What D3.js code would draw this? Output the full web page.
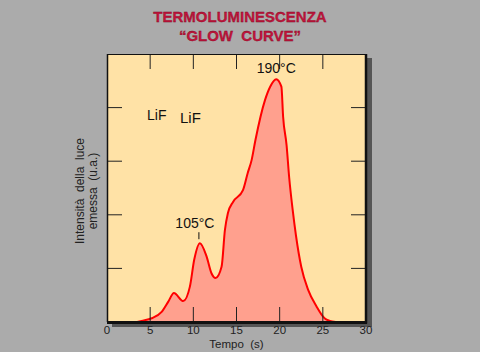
<!DOCTYPE html>
<html>
<head>
<meta charset="utf-8">
<script src="https://cdn.jsdelivr.net/npm/d3@7"></script>
<style>
html,body{margin:0;padding:0;background:#ababab;}
svg{display:block;font-family:"Liberation Sans",Arial,Helvetica,sans-serif;}
</style>
</head>
<body>
<svg id="chart" width="480" height="352"></svg>
<script>
const titleLines = ["TERMOLUMINESCENZA", "\u201CGLOW  CURVE\u201D"];
const xTicks = [0, 5, 10, 15, 20, 25, 30];
const yTicks = [1, 2, 3, 4];
const time = [3.5, 4.0, 5.17, 6.33, 7.1, 7.75, 8.83, 9.6, 10.1, 10.76, 11.54, 12.1, 12.58, 13.27, 13.66, 14.0, 14.6, 15.75, 16.3, 16.75, 17.2, 18.3, 18.9, 19.6, 20.2, 20.4, 20.8, 21.1, 21.5, 21.9, 22.5, 23.3, 24.27, 25.2, 25.8, 26.5];
const intensity = [0, 0.02, 0.07, 0.19, 0.38, 0.54, 0.39, 0.66, 1.16, 1.47, 1.22, 0.91, 0.82, 1.03, 1.72, 2.03, 2.24, 2.46, 2.78, 3.02, 3.40, 4.14, 4.39, 4.53, 4.39, 3.83, 3.30, 2.70, 2.10, 1.60, 1.03, 0.60, 0.29, 0.07, 0.02, 0];
const peakLabels = ["105\u00B0C", "190\u00B0C"];
const peakTimes = [10.76, 19.6];
const peakValues = [1.47, 4.53];
const materialLabels = ["LiF", "LiF"];
const xLabel = "Tempo  (s)";
const yLabelLines = ["Intensit\u00E0  della  luce", "emessa  (u.a.)"];

const svg = d3.select("#chart");
const L = 107, R = 366, T = 54, B = 322;
const x = d3.scaleLinear().domain([0, 30]).range([L, R]);
const y = d3.scaleLinear().domain([0, 5]).range([B, T]);

// shadow
svg.append("rect").attr("x", R).attr("y", T + 4).attr("width", 6).attr("height", B - T).attr("fill", "#555");
svg.append("rect").attr("x", L + 5).attr("y", B).attr("width", R - L + 1).attr("height", 5).attr("fill", "#555");

// plot background
svg.append("rect").attr("x", L).attr("y", T).attr("width", R - L).attr("height", B - T).attr("fill", "#ffe2a6");

// title
svg.selectAll("text.title").data(titleLines).join("text")
  .attr("class", "title")
  .attr("x", 240).attr("y", (d, i) => 22 + i * 19)
  .attr("text-anchor", "middle")
  .attr("font-size", 15).attr("font-weight", "bold")
  .attr("fill", "#c4143c").attr("stroke", "#7a0a22").attr("stroke-width", 0.3)
  .style("white-space", "pre")
  .text(d => d);

// area
const pts = time.map((t, i) => [t, intensity[i]]);
const area = d3.area().x(d => x(d[0])).y0(y(0)).y1(d => y(d[1])).curve(d3.curveMonotoneX);
const line = d3.line().x(d => x(d[0])).y(d => y(d[1])).curve(d3.curveMonotoneX);
svg.append("path").datum(pts).attr("d", area).attr("fill", "#ffa08e");
svg.append("path").datum(pts).attr("d", line).attr("fill", "none").attr("stroke", "#ff0000").attr("stroke-width", 2);

// ticks (inward)
const tickLen = 15;
const gx = svg.append("g");
gx.selectAll("line.bt").data(xTicks.slice(1, -1)).join("line")
  .attr("x1", d => x(d)).attr("x2", d => x(d)).attr("y1", B).attr("y2", B - tickLen)
  .attr("stroke", "#222").attr("stroke-width", 1);
gx.selectAll("line.tt").data(xTicks.slice(1, -1)).join("line").attr("class", "tt")
  .attr("x1", d => x(d)).attr("x2", d => x(d)).attr("y1", T).attr("y2", T + tickLen)
  .attr("stroke", "#222").attr("stroke-width", 1);
gx.selectAll("line.lt").data(yTicks).join("line").attr("class", "lt")
  .attr("x1", L).attr("x2", L + tickLen).attr("y1", d => y(d)).attr("y2", d => y(d))
  .attr("stroke", "#222").attr("stroke-width", 1);
gx.selectAll("line.rt").data(yTicks).join("line").attr("class", "rt")
  .attr("x1", R).attr("x2", R - tickLen).attr("y1", d => y(d)).attr("y2", d => y(d))
  .attr("stroke", "#222").attr("stroke-width", 1);

// frame
svg.append("line").attr("x1", L).attr("x2", R).attr("y1", T + 0.5).attr("y2", T + 0.5).attr("stroke", "#111").attr("stroke-width", 1);
svg.append("line").attr("x1", L + 0.5).attr("x2", L + 0.5).attr("y1", T).attr("y2", B).attr("stroke", "#111").attr("stroke-width", 1.5);
svg.append("line").attr("x1", R).attr("x2", R).attr("y1", T).attr("y2", B + 1.5).attr("stroke", "#111").attr("stroke-width", 2.5);
svg.append("line").attr("x1", L).attr("x2", R + 1).attr("y1", B + 0.5).attr("y2", B + 0.5).attr("stroke", "#111").attr("stroke-width", 3);

// x tick labels
svg.selectAll("text.xl").data(xTicks).join("text").attr("class", "xl")
  .attr("x", d => x(d)).attr("y", 334)
  .attr("text-anchor", "middle").attr("font-size", 11.5).attr("fill", "#222")
  .text(d => d);

svg.append("text").attr("x", (L + R) / 2).attr("y", 348)
  .attr("text-anchor", "middle").attr("font-size", 11.5).attr("fill", "#222")
  .style("white-space", "pre").text(xLabel);

// y label
svg.selectAll("text.yl").data(yLabelLines).join("text").attr("class", "yl")
  .attr("transform", (d, i) => `translate(${84 + i * 13},191) rotate(-90)`)
  .attr("text-anchor", "middle").attr("font-size", 12).attr("fill", "#222")
  .style("white-space", "pre").text(d => d);

// peak labels
const labelOffsets = [[-5, -15], [0, -6]];
svg.selectAll("text.pk").data(peakLabels).join("text").attr("class", "pk")
  .attr("x", (d, i) => x(peakTimes[i]) + labelOffsets[i][0])
  .attr("y", (d, i) => y(peakValues[i]) + labelOffsets[i][1])
  .attr("text-anchor", "middle").attr("font-size", 14).attr("fill", "#111")
  .text(d => d);
svg.append("line").attr("x1", x(peakTimes[0]) - 1).attr("x2", x(peakTimes[0]) - 1)
  .attr("y1", y(peakValues[0]) - 11).attr("y2", y(peakValues[0]) - 4)
  .attr("stroke", "#111").attr("stroke-width", 1);

// material labels
const matPos = [[147, 120, 14], [180, 123, 15]];
svg.selectAll("text.mat").data(materialLabels).join("text").attr("class", "mat")
  .attr("x", (d, i) => matPos[i][0]).attr("y", (d, i) => matPos[i][1])
  .attr("font-size", (d, i) => matPos[i][2]).attr("fill", "#111")
  .text(d => d);
</script>
</body>
</html>
